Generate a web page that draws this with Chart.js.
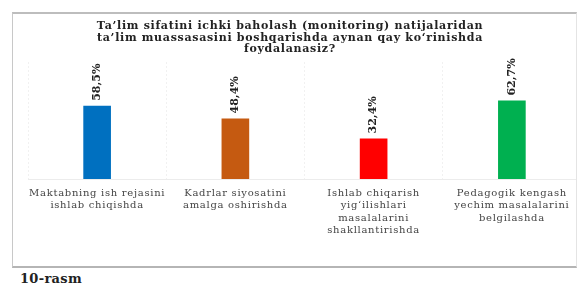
<!DOCTYPE html>
<html>
<head>
<meta charset="utf-8">
<script src="https://cdn.jsdelivr.net/npm/chart.js@4/dist/chart.umd.min.js"></script>
<style>
  html, body { margin: 0; padding: 0; background: #fff; width: 579px; height: 289px; overflow: hidden; }
  #frame { position: absolute; left: 12px; top: 12px; width: 565px; height: 256px;
           border-top: 2px solid #bdbdbd; border-left: 1px solid #c8c8c8; border-right: 1px solid #e4e4e4;
           border-bottom: 2px solid #b5b5b5; box-sizing: border-box; }
  #clip { position: absolute; left: 13px; top: 14px; width: 563px; height: 252px; overflow: hidden; }
  #wrap { position: absolute; left: 0; top: 0; width: 568px; height: 252px; }
  #title { position: absolute; left: 70px; top: 20px; width: 440px; text-align: center;
           font: bold 11px "DejaVu Serif", serif; letter-spacing: 0.7px; line-height: 11.7px; color: #222; }
  #cap { position: absolute; left: 20px; top: 271px; font: bold 13px "DejaVu Serif", serif; letter-spacing: 0.3px; color: #222; }
</style>
</head>
<body>
<div id="frame"></div>
<div id="clip"><div id="wrap"><canvas id="c"></canvas></div></div>
<div id="title"></div>
<div id="cap">10-rasm</div>
<script>
const titleLines = [
  "Ta’lim sifatini ichki baholash (monitoring) natijalaridan",
  "ta’lim muassasasini boshqarishda aynan qay ko‘rinishda",
  "foydalanasiz?"
];
const categories = [
  ["Maktabning ish rejasini", "ishlab chiqishda"],
  ["Kadrlar siyosatini", "amalga oshirishda"],
  ["Ishlab chiqarish", "yig‘ilishlari", "masalalarini", "shakllantirishda"],
  ["Pedagogik kengash", "yechim masalalarini", "belgilashda"]
];
const values = [58.5, 48.4, 32.4, 62.7];
const barColors = ["#0070C0", "#C55A11", "#FF0000", "#00B050"];

document.getElementById("title").innerHTML = titleLines.map(s => s.replace(/&/g, "&amp;").replace(/</g, "&lt;")).join("<br>");

const spacing = {
  id: "spacing",
  beforeDraw(chart) { chart.ctx.letterSpacing = "0.7px"; },
  beforeDatasetsDraw(chart) { chart.ctx.letterSpacing = "0px"; }
};

const valueLabels = {
  id: "valueLabels",
  afterDatasetsDraw(chart) {
    const ctx = chart.ctx;
    const meta = chart.getDatasetMeta(0);
    ctx.save();
    ctx.letterSpacing = "0px";
    ctx.font = "bold 11px 'DejaVu Serif', serif";
    ctx.fillStyle = "#222";
    ctx.textAlign = "left";
    ctx.textBaseline = "middle";
    meta.data.forEach((bar, i) => {
      const txt = values[i].toFixed(1).replace(".", ",") + "%";
      ctx.save();
      ctx.translate(bar.x, bar.y - 5);
      ctx.rotate(-Math.PI / 2);
      ctx.fillText(txt, 0, 0);
      ctx.restore();
    });
    ctx.restore();
  }
};

new Chart(document.getElementById("c"), {
  type: "bar",
  data: {
    labels: categories,
    datasets: [{
      data: values,
      backgroundColor: barColors,
      borderWidth: 0,
      barPercentage: 0.4,
      categoryPercentage: 0.5
    }]
  },
  options: {
    responsive: true,
    maintainAspectRatio: false,
    animation: false,
    layout: { padding: { left: 15, right: 0, top: 48, bottom: 21 } },
    plugins: {
      legend: { display: false },
      tooltip: { enabled: false },
      title: { display: false }
    },
    scales: {
      x: {
        grid: { display: true, offset: true, color: "#f1f1f1", drawTicks: false },
        border: { display: true, color: "#ececec", dash: [2, 2] },
        ticks: {
          color: "#444",
          font: { family: "'DejaVu Serif', serif", size: 10, lineHeight: 1.25 },
          maxRotation: 0, autoSkip: false, padding: 8
        }
      },
      y: {
        display: false,
        min: 0,
        max: 93.5
      }
    }
  },
  plugins: [spacing, valueLabels]
});
</script>
</body>
</html>
